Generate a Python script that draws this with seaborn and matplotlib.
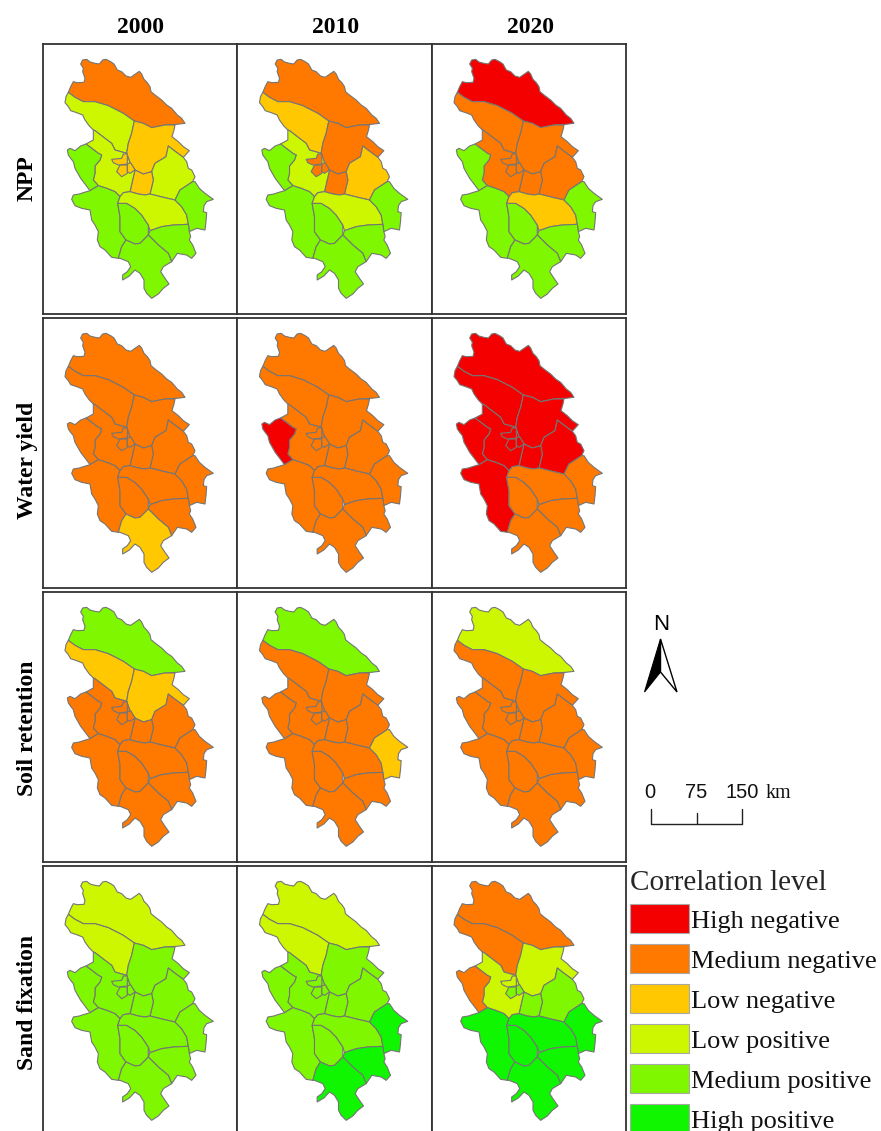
import numpy as np
import matplotlib.pyplot as plt
from matplotlib.patches import Patch, Polygon
import seaborn as sns

sns.set_theme(style='white')
plt.rcParams['font.family'] = ['Liberation Serif', 'DejaVu Serif']

years = ['2000', '2010', '2020']
services = ['NPP', 'Water yield', 'Soil retention', 'Sand fixation']
levels = ['High negative', 'Medium negative', 'Low negative',
          'Low positive', 'Medium positive', 'High positive']
level_colors = ['#F40000', '#FF7800', '#FFC800', '#CDF700', '#7FF700', '#10F500']

# contours des districts (repere commun a toutes les cartes)
north = [(85,157),(92,140),(100,125),(112,128),(132,127),(135,115),(128,95),(130,85),(122,72),(128,60),(140,58),(150,66),(165,70),(178,72),(188,60),(198,58),(212,65),(222,72),(232,90),(245,95),(258,108),(272,112),(285,103),(298,94),(305,102),(312,118),(322,128),(330,140),(333,155),(345,165),(365,180),(380,195),(395,205),(412,225),(425,235),(435,250),(410,253),(375,255),(335,263),(310,250),(283,243),(250,220),(205,197),(165,185),(130,185),(105,172)]
northwest = [(85,157),(78,170),(75,188),(85,200),(92,212),(110,218),(128,225),(135,240),(148,258),(160,270),(165,272),(195,295),(215,310),(225,330),(260,340),(265,310),(275,280),(283,243),(250,220),(205,197),(165,185),(130,185),(105,172)]
center_north = [(283,243),(310,250),(335,263),(375,255),(405,255),(402,270),(396,290),(415,305),(430,320),(448,332),(430,352),(400,330),(385,318),(378,350),(345,370),(335,395),(310,402),(285,390),(270,368),(260,340),(265,310),(275,280)]
east = [(385,318),(400,330),(430,352),(440,365),(445,385),(455,390),(465,410),(458,425),(420,450),(405,480),(370,472),(330,462),(340,420),(335,395),(345,370),(378,350)]
center_south = [(285,390),(310,402),(335,395),(340,420),(330,462),(315,465),(295,462),(270,455),(278,420)]
center = [(160,270),(165,272),(195,295),(215,310),(225,330),(260,340),(270,368),(285,390),(278,420),(270,455),(250,458),(240,470),(225,455),(200,445),(175,437),(160,420),(165,400),(165,378),(180,360),(185,345),(175,340),(138,312),(160,300)]
west = [(82,330),(90,325),(105,332),(122,318),(138,312),(175,340),(185,345),(180,360),(165,378),(165,400),(160,420),(175,437),(150,452),(135,432),(122,415),(105,385),(100,365),(92,355),(85,345)]
southwest = [(95,478),(100,465),(118,462),(130,458),(150,452),(175,437),(200,445),(225,455),(240,470),(233,490),(240,530),(240,575),(258,600),(245,620),(235,655),(215,652),(195,630),(180,620),(172,600),(175,575),(165,555),(155,540),(150,510),(125,505),(105,497)]
south_center = [(233,490),(260,490),(285,505),(305,525),(325,555),(325,585),(300,610),(285,612),(258,600),(240,575),(240,530)]
south_band = [(240,470),(250,458),(270,455),(295,462),(315,465),(330,462),(370,472),(405,480),(425,500),(440,525),(445,553),(400,555),(365,560),(330,572),(325,555),(305,525),(285,505),(260,490),(233,490)]
southeast = [(405,480),(420,450),(458,425),(465,425),(478,445),(495,460),(520,478),(500,485),(492,497),(490,515),(500,518),(498,545),(495,570),(470,565),(448,575),(445,553),(440,525),(425,500)]
south_east2 = [(330,572),(365,560),(400,555),(445,553),(448,575),(452,590),(448,600),(458,615),(468,640),(455,655),(440,645),(412,640),(395,665),(385,640),(355,615),(330,590),(325,585)]
south = [(258,600),(285,612),(300,610),(325,585),(330,590),(355,615),(385,640),(395,665),(370,680),(362,695),(375,715),(387,732),(370,745),(355,762),(335,775),(320,760),(312,745),(312,720),(300,700),(285,690),(268,708),(248,720),(248,705),(262,695),(272,680),(265,665),(240,655),(235,655),(245,620)]
city_a = [(230,395),(240,375),(262,375),(262,400),(245,410)]
city_b = [(215,358),(245,355),(250,342),(262,342),(262,372),(235,375),(220,368)]
city_c = [(262,372),(272,368),(285,390),(270,400),(262,395)]

districts = [north, northwest, center_north, east, center_south, center, west,
             southwest, south_center, south_band, southeast, south_east2, south,
             city_a, city_b, city_c]

# niveau de chaque district, meme ordre que districts (0 = High negative ... 5 = High positive)
npp_2000 = [1, 3, 2, 3, 2, 3, 4, 4, 4, 3, 4, 4, 4, 2, 2, 2]
npp_2010 = [1, 2, 1, 2, 1, 3, 4, 4, 4, 3, 4, 4, 4, 1, 1, 1]
npp_2020 = [0, 1, 1, 1, 1, 1, 4, 4, 4, 2, 4, 4, 4, 1, 1, 1]
water_2000 = [1, 1, 1, 1, 1, 1, 1, 1, 1, 1, 1, 1, 2, 1, 1, 1]
water_2010 = [1, 1, 1, 1, 1, 1, 0, 1, 1, 1, 1, 1, 1, 1, 1, 1]
water_2020 = [0, 0, 0, 0, 0, 0, 0, 0, 1, 1, 1, 1, 1, 0, 0, 0]
soil_2000 = [4, 2, 2, 1, 1, 1, 1, 1, 1, 1, 1, 1, 1, 1, 1, 1]
soil_2010 = [4, 1, 1, 1, 1, 1, 1, 1, 1, 1, 2, 1, 1, 1, 1, 1]
soil_2020 = [3, 1, 1, 1, 1, 1, 1, 1, 1, 1, 1, 1, 1, 1, 1, 1]
sand_2000 = [3, 3, 4, 4, 4, 4, 4, 4, 4, 4, 4, 4, 4, 4, 4, 4]
sand_2010 = [3, 3, 4, 4, 4, 4, 4, 4, 4, 4, 5, 5, 5, 4, 4, 4]
sand_2020 = [1, 1, 3, 4, 4, 3, 1, 5, 5, 5, 5, 5, 5, 4, 3, 4]
panels = [[npp_2000, npp_2010, npp_2020],
          [water_2000, water_2010, water_2020],
          [soil_2000, soil_2010, soil_2020],
          [sand_2000, sand_2010, sand_2020]]

W, H = 881, 1131
fig = plt.figure(figsize=(W / 100, H / 100), dpi=100, facecolor='white')

col_left = [43, 237.5, 432]
row_top = [44, 318, 592, 866]
row_label_y = [178, 460, 728, 1002]
panel_w, panel_h = 194, 270


def px_axes(left, top, w, h):
    return fig.add_axes([left / W, 1 - (top + h) / H, w / W, h / H])


for r, row in enumerate(panels):
    for c, values in enumerate(row):
        ax = px_axes(col_left[c], row_top[r], panel_w, panel_h)
        for shape, lev in zip(districts, values):
            ax.add_patch(Polygon(shape, closed=True, facecolor=level_colors[lev],
                                 edgecolor='#757575', linewidth=0.8, joinstyle='round'))
        ax.set_xlim(9, 591)
        ax.set_ylim(822, 12)
        ax.set_xticks([])
        ax.set_yticks([])
        for s in ax.spines.values():
            s.set_color('#333333')
            s.set_linewidth(1.3)

# titres colonnes et lignes
for c, y in enumerate(years):
    fig.text((col_left[c] + panel_w / 2 + 1) / W, 1 - 27.5 / H, y, ha='center', va='center',
             fontsize=17, fontweight='bold', color='black')
for r, s in enumerate(services):
    fig.text(27.5 / W, 1 - row_label_y[r] / H, s, rotation=90, ha='center', va='center',
             fontsize=17, fontweight='bold', color='black')

# fleche du nord et echelle
deco = fig.add_axes([0, 0, 1, 1], facecolor='none')
deco.set_xlim(0, W)
deco.set_ylim(H, 0)
deco.axis('off')
deco.text(661, 625, 'N', ha='center', va='center', fontsize=16, family='Liberation Sans', color='black')
deco.add_patch(Polygon([(660.5, 639), (660.5, 672), (644.5, 692)], closed=True, facecolor='black', edgecolor='black', linewidth=0.8))
deco.add_patch(Polygon([(660.5, 639), (660.5, 672), (677, 692)], closed=True, facecolor='white', edgecolor='black', linewidth=1.0))

deco.plot([650.5, 650.5, 742, 742], [809, 824, 824, 809], color='#222222', lw=1.0)
deco.plot([696.5, 696.5], [813, 824], color='#222222', lw=1.0)
for x, t in zip([650, 696, 742], ['0', '75', '150']):
    deco.text(x, 792, t, ha='center', va='center', fontsize=14.5, family='Liberation Sans', color='#111111')
deco.text(766, 793.5, 'km', ha='left', va='center', fontsize=14.5, color='#111111')

# legende
handles = [Patch(facecolor=col, edgecolor='#a8a8a8', linewidth=0.8, label=lab)
           for lab, col in zip(levels, level_colors)]
leg = fig.legend(handles=handles, title='Correlation level', loc='upper left',
                 bbox_to_anchor=(630 / W, 1 - 870 / H), frameon=False, fontsize=19,
                 title_fontsize=21, borderpad=0, borderaxespad=0, handlelength=2.25,
                 handleheight=1.31, labelspacing=0.42, handletextpad=0.06, alignment='left',
                 labelcolor='#111111')
leg._legend_box.sep = 6

fig.savefig('out.png', dpi=100)
